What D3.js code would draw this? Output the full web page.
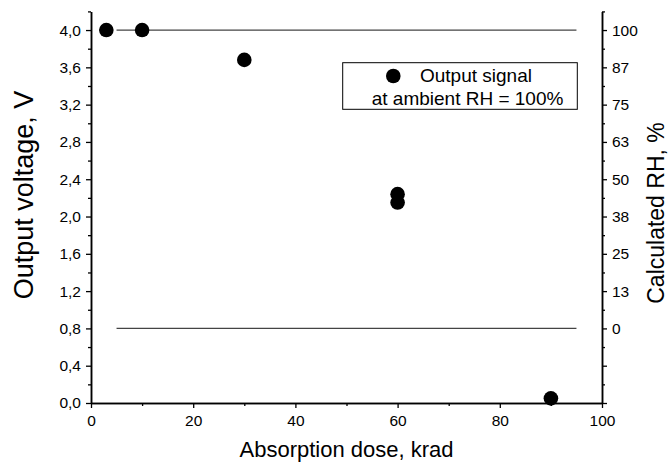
<!DOCTYPE html>
<html>
<head>
<meta charset="utf-8">
<script src="https://cdn.jsdelivr.net/npm/d3@7/dist/d3.min.js"></script>
<style>
  html, body { margin: 0; padding: 0; background: #fff; }
  svg { display: block; font-family: "Liberation Sans", Arial, sans-serif; }
</style>
</head>
<body>
<svg id="chart" width="669" height="462"></svg>
<script>
// ---- data ----
const doseKrad = [3, 10, 30, 60, 60, 90];
const outputVoltage = [4.0, 4.0, 3.68, 2.24, 2.15, 0.05];
const refLevelsV = [4.0, 0.8];
const refLineStart = 5;
const refLineEnd = 95;
const xTicks = [0, 20, 40, 60, 80, 100];
const yTicks = [0, 0.4, 0.8, 1.2, 1.6, 2.0, 2.4, 2.8, 3.2, 3.6, 4.0];
const rhTickValues = [-25, -12.5, 0, 12.5, 25, 37.5, 50, 62.5, 75, 87.5, 100];
const rhTickLabels = ["", "", "0", "13", "25", "38", "50", "63", "75", "87", "100"];
const legendLine1 = "Output signal";
const legendLine2 = "at ambient RH = 100%";

// ---- layout ----
const svg = d3.select("#chart");
const mLeft = 91, mRight = 602, mTop = 11.4, mBottom = 403;

const x = d3.scaleLinear().domain([0, 100]).range([mLeft, mRight]);
const y = d3.scaleLinear().domain([0, 4.2]).range([mBottom, mTop]);
// RH(%) = (V - 0.8) / 3.2 * 100
const rh = d3.scaleLinear().domain([(0 - 0.8) / 3.2 * 100, (4.2 - 0.8) / 3.2 * 100]).range([mBottom, mTop]);

const fmtComma = d => d3.format(".1f")(d).replace(".", ",");

function styleAxis(g, fontSize) {
  g.select(".domain").attr("stroke", "#000").attr("stroke-width", 1.5);
  g.selectAll(".tick line").attr("stroke", "#000").attr("stroke-width", 1.3);
  g.selectAll(".tick text").attr("fill", "#000").attr("font-size", fontSize)
    .attr("font-family", "'Liberation Sans', Arial, sans-serif");
}

// x axis (major + minor)
const xMinor = svg.append("g").attr("transform", `translate(0,${mBottom})`)
  .call(d3.axisBottom(x).tickValues(d3.range(10, 100, 20)).tickSize(3).tickSizeOuter(0).tickFormat(""));
styleAxis(xMinor, 15);
const xAxis = svg.append("g").attr("transform", `translate(0,${mBottom})`)
  .call(d3.axisBottom(x).tickValues(xTicks).tickSize(5).tickSizeOuter(0).tickPadding(7).tickFormat(d3.format("d")));
styleAxis(xAxis, 15.5);

// left y axis
const yMinor = svg.append("g").attr("transform", `translate(${mLeft},0)`)
  .call(d3.axisLeft(y).tickValues(d3.range(0.2, 4.3, 0.4)).tickSize(3).tickSizeOuter(0).tickFormat(""));
styleAxis(yMinor, 15);
const yAxis = svg.append("g").attr("transform", `translate(${mLeft},0)`)
  .call(d3.axisLeft(y).tickValues(yTicks).tickSize(5).tickSizeOuter(0).tickPadding(5).tickFormat(fmtComma));
styleAxis(yAxis, 15.5);

// right RH axis
const rhMinor = svg.append("g").attr("transform", `translate(${mRight},0)`)
  .call(d3.axisRight(rh).tickValues(d3.range(-18.75, 107, 12.5)).tickSize(3).tickSizeOuter(0).tickFormat(""));
styleAxis(rhMinor, 15);
const rhAxis = svg.append("g").attr("transform", `translate(${mRight},0)`)
  .call(d3.axisRight(rh).tickValues(rhTickValues).tickSize(5).tickSizeOuter(0).tickPadding(5)
    .tickFormat((d, i) => rhTickLabels[i]));
styleAxis(rhAxis, 15.5);

// reference lines
svg.append("g").selectAll("line").data(refLevelsV).join("line")
  .attr("x1", x(refLineStart)).attr("x2", x(refLineEnd))
  .attr("y1", d => y(d)).attr("y2", d => y(d))
  .attr("stroke", "#444").attr("stroke-width", 1.2);

// points
svg.append("g").selectAll("circle").data(doseKrad).join("circle")
  .attr("cx", d => x(d)).attr("cy", (d, i) => y(outputVoltage[i]))
  .attr("r", 7.3).attr("fill", "#000");

// legend
const lg = svg.append("g");
lg.append("rect").attr("x", 342.7).attr("y", 62.7).attr("width", 234.6).attr("height", 46.6)
  .attr("fill", "#fff").attr("stroke", "#000").attr("stroke-width", 1);
lg.append("circle").attr("cx", 393.3).attr("cy", 76).attr("r", 7.3).attr("fill", "#000");
lg.append("text").attr("x", 420).attr("y", 82.3).attr("font-size", 19).text(legendLine1);
lg.append("text").attr("x", 371.7).attr("y", 105).attr("font-size", 19).text(legendLine2);

// axis titles
svg.append("text").attr("x", (mLeft + mRight) / 2).attr("y", 456.7).attr("text-anchor", "middle")
  .attr("font-size", 22).text("Absorption dose, krad");
svg.append("text").attr("transform", "translate(33,195) rotate(-90)").attr("text-anchor", "middle")
  .attr("font-size", 27).text("Output voltage, V");
svg.append("text").attr("transform", "translate(664,213) rotate(-90)").attr("text-anchor", "middle")
  .attr("font-size", 23).text("Calculated RH, %");
</script>
</body>
</html>
